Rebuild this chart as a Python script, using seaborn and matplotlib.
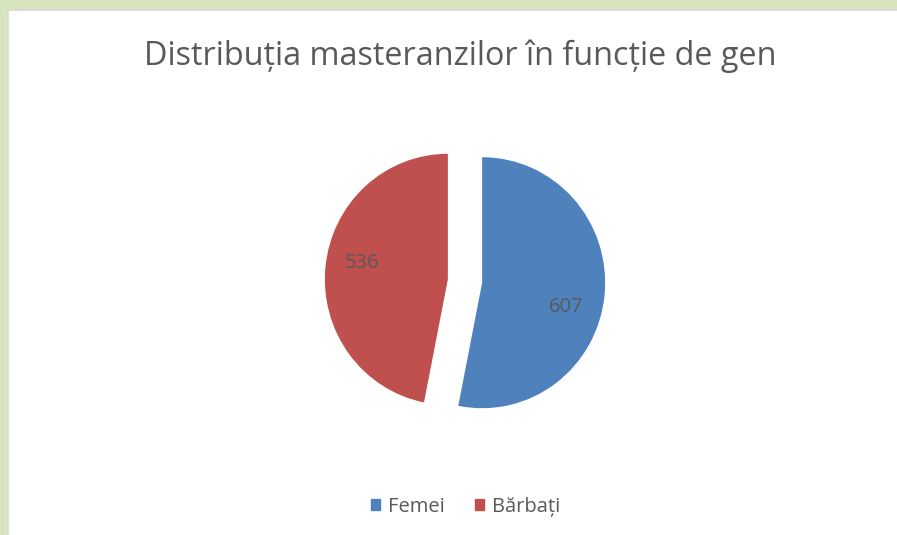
import numpy as np
import matplotlib.pyplot as plt
import matplotlib.patches as mpatches
import seaborn as sns

# Data
categories = ['Femei', 'Bărbați']
values = [607, 536]
colors = ['#4F81BD', '#C0504D']
title = 'Distribuția masteranzilor în funcție de gen'

sns.set_theme(style='white')
plt.rcParams['font.family'] = ['Open Sans', 'DejaVu Sans']
text_color = '#595959'

W, H = 897, 535
fig = plt.figure(figsize=(W / 100, H / 100), dpi=100, facecolor='#D7E4BD')

# white chart panel (open to the right and bottom)
panel = mpatches.Rectangle((8 / W, -0.05), 1.1, (H - 10) / H + 0.05,
                           transform=fig.transFigure, facecolor='white',
                           edgecolor='#D9D9D9', linewidth=1.2, zorder=-5)
fig.patches.append(panel)

fig.text(460 / W, 1 - 56 / H, title, ha='center', va='center',
         fontsize=23.3, color=text_color)

# pie axes: radius ~123 px wide, ~125 px tall (reference is slightly stretched)
rx, ry = 123, 125.5
cx, cy = 465, H - 281
ax = fig.add_axes([(cx - 1.25 * rx) / W, (cy - 1.25 * ry) / H, 2.5 * rx / W, 2.5 * ry / H])
ax.set_facecolor('none')
ax.set_zorder(2)

explode = 0.14
wedges, texts = ax.pie(
    values, colors=colors, startangle=90, counterclock=False,
    explode=[explode, explode], radius=1, wedgeprops={'linewidth': 0})

# value labels, nudged clockwise of each slice's middle (Excel "best fit")
label_shift = [-10, -5]
for w, v, s in zip(wedges, values, label_shift):
    ang = np.deg2rad((w.theta1 + w.theta2) / 2 + s)
    ox, oy = w.center
    ax.text(ox + 0.71 * np.cos(ang), oy + 0.71 * np.sin(ang), str(v),
            ha='center', va='center', color=text_color, fontsize=14.5)

ax.set_xlim(-1.25, 1.25)
ax.set_ylim(-1.25, 1.25)
ax.set_aspect('auto')
ax.axis('off')

handles = [mpatches.Patch(color=c, label=l) for c, l in zip(colors, categories)]
fig.legend(handles=handles, loc='center', bbox_to_anchor=(466 / W, 1 - 507 / H),
           ncol=2, frameon=False, fontsize=14.5, handlelength=0.45, handleheight=0.45,
           handletextpad=0.4, columnspacing=1.5, labelcolor=text_color)

fig.savefig('out.png', dpi=100, facecolor=fig.get_facecolor())
